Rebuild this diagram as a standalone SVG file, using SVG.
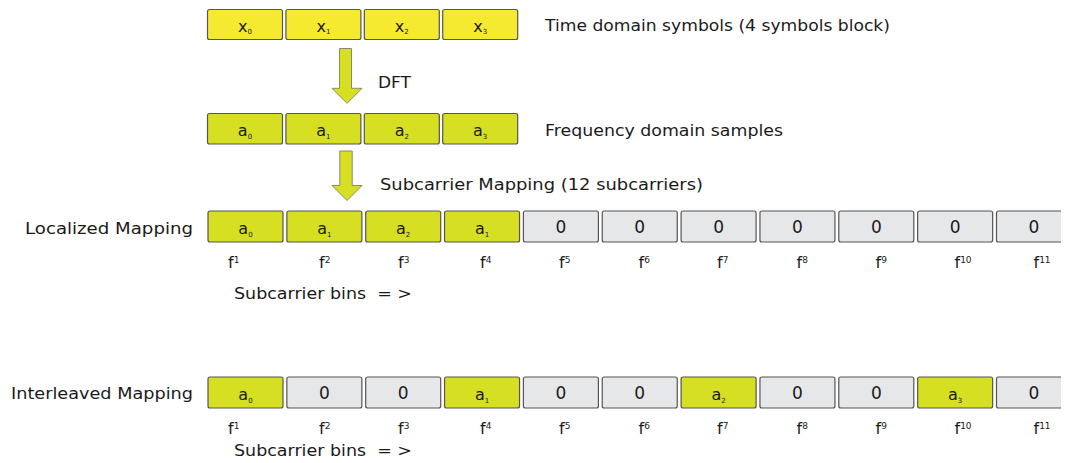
<svg xmlns="http://www.w3.org/2000/svg" width="1066" height="463" viewBox="0 0 1066 463">
<defs>
<style>
.bx{stroke:#555;stroke-width:1.2}
.y{fill:#f6ea31}
.g{fill:#d7df23}
.z{fill:#e6e7e8}
text{font-family:"DejaVu Sans","Liberation Sans",sans-serif;fill:#1a1a1a}
.lbl{font-size:16.5px}
.sym{font-size:16px;text-anchor:middle}
.sub{font-size:7px}
.zero{font-size:17px;text-anchor:middle}
.f{font-size:16px}
.sup{font-size:9px}
.arr{fill:#d7df23;stroke:#8a8a6a;stroke-width:1}
</style>
</defs>
<rect width="1066" height="463" fill="#fff"/>

<!-- Top row: time domain symbols -->
<g id="x0"><rect class="bx y" x="207.5" y="9.5" width="75" height="30" rx="2"/><text class="sym" x="245" y="31.5">x<tspan class="sub" dy="2.5">0</tspan></text></g>
<g id="x1"><rect class="bx y" x="285.9" y="9.5" width="75" height="30" rx="2"/><text class="sym" x="323.4" y="31.5">x<tspan class="sub" dy="2.5">1</tspan></text></g>
<g id="x2"><rect class="bx y" x="364.3" y="9.5" width="75" height="30" rx="2"/><text class="sym" x="401.8" y="31.5">x<tspan class="sub" dy="2.5">2</tspan></text></g>
<g id="x3"><rect class="bx y" x="442.7" y="9.5" width="75" height="30" rx="2"/><text class="sym" x="480.2" y="31.5">x<tspan class="sub" dy="2.5">3</tspan></text></g>
<text class="lbl" x="545" y="31" textLength="345" lengthAdjust="spacingAndGlyphs">Time domain symbols (4 symbols block)</text>

<!-- Second row: frequency domain samples -->
<g id="a0"><rect class="bx g" x="207.5" y="113.5" width="75" height="30.5" rx="2"/><text class="sym" x="245" y="136">a<tspan class="sub" dy="2.5">0</tspan></text></g>
<g id="a1"><rect class="bx g" x="285.9" y="113.5" width="75" height="30.5" rx="2"/><text class="sym" x="323.4" y="136">a<tspan class="sub" dy="2.5">1</tspan></text></g>
<g id="a2"><rect class="bx g" x="364.3" y="113.5" width="75" height="30.5" rx="2"/><text class="sym" x="401.8" y="136">a<tspan class="sub" dy="2.5">2</tspan></text></g>
<g id="a3"><rect class="bx g" x="442.7" y="113.5" width="75" height="30.5" rx="2"/><text class="sym" x="480.2" y="136">a<tspan class="sub" dy="2.5">3</tspan></text></g>
<text class="lbl" x="545" y="136" textLength="238" lengthAdjust="spacingAndGlyphs">Frequency domain samples</text>

<!-- Connectors: block arrows -->
<g id="connectors">
<path class="arr" d="M339.5,48.5 H351.5 V88.3 H362 L347,103.3 L332,88.3 H339.5 Z"/>
<path class="arr" d="M339.8,151 H352.2 V185.5 H362 L347,200.5 L332,185.5 H339.8 Z"/>
</g>
<text class="lbl" x="378" y="88" textLength="33" lengthAdjust="spacingAndGlyphs">DFT</text>
<text class="lbl" x="380" y="190" textLength="323" lengthAdjust="spacingAndGlyphs">Subcarrier Mapping (12 subcarriers)</text>

<!-- Localized mapping -->
<text class="lbl" x="25" y="234" textLength="168" lengthAdjust="spacingAndGlyphs">Localized Mapping</text>
<g id="loc1"><rect class="bx g" x="208" y="211" width="75" height="31" rx="2"/><text class="sym" x="245.5" y="234">a<tspan class="sub" dy="2.5">0</tspan></text></g>
<g id="loc2"><rect class="bx g" x="286.85" y="211" width="75" height="31" rx="2"/><text class="sym" x="324.35" y="234">a<tspan class="sub" dy="2.5">1</tspan></text></g>
<g id="loc3"><rect class="bx g" x="365.7" y="211" width="75" height="31" rx="2"/><text class="sym" x="403.2" y="234">a<tspan class="sub" dy="2.5">2</tspan></text></g>
<g id="loc4"><rect class="bx g" x="444.55" y="211" width="75" height="31" rx="2"/><text class="sym" x="482.05" y="234">a<tspan class="sub" dy="2.5">1</tspan></text></g>
<g id="loc5"><rect class="bx z" x="523.4" y="211" width="75" height="31" rx="2"/><text class="zero" x="560.9" y="233">0</text></g>
<g id="loc6"><rect class="bx z" x="602.25" y="211" width="75" height="31" rx="2"/><text class="zero" x="639.75" y="233">0</text></g>
<g id="loc7"><rect class="bx z" x="681.1" y="211" width="75" height="31" rx="2"/><text class="zero" x="718.6" y="233">0</text></g>
<g id="loc8"><rect class="bx z" x="759.95" y="211" width="75" height="31" rx="2"/><text class="zero" x="797.45" y="233">0</text></g>
<g id="loc9"><rect class="bx z" x="838.8" y="211" width="75" height="31" rx="2"/><text class="zero" x="876.3" y="233">0</text></g>
<g id="loc10"><rect class="bx z" x="917.65" y="211" width="75" height="31" rx="2"/><text class="zero" x="955.15" y="233">0</text></g>
<g id="loc11"><rect class="z" x="996.5" y="211" width="64.5" height="31"/><path class="bx" fill="none" d="M1061,211 H998.5 Q996.5,211 996.5,213 V240 Q996.5,242 998.5,242 H1061"/><text class="zero" x="1034" y="233">0</text></g>
<g id="locf">
<text class="f" x="228" y="268">f<tspan class="sup" dy="-5">1</tspan></text>
<text class="f" x="319" y="268">f<tspan class="sup" dy="-5">2</tspan></text>
<text class="f" x="398" y="268">f<tspan class="sup" dy="-5">3</tspan></text>
<text class="f" x="480" y="268">f<tspan class="sup" dy="-5">4</tspan></text>
<text class="f" x="559" y="268">f<tspan class="sup" dy="-5">5</tspan></text>
<text class="f" x="638.5" y="268">f<tspan class="sup" dy="-5">6</tspan></text>
<text class="f" x="717" y="268">f<tspan class="sup" dy="-5">7</tspan></text>
<text class="f" x="796.5" y="268">f<tspan class="sup" dy="-5">8</tspan></text>
<text class="f" x="875.5" y="268">f<tspan class="sup" dy="-5">9</tspan></text>
<text class="f" x="954.5" y="268">f<tspan class="sup" dy="-5">10</tspan></text>
<text class="f" x="1033.5" y="268">f<tspan class="sup" dy="-5">11</tspan></text>
</g>
<text class="lbl" x="234" y="299" textLength="178" lengthAdjust="spacingAndGlyphs">Subcarrier bins&#160; = &gt;</text>

<!-- Interleaved mapping -->
<text class="lbl" x="11" y="399" textLength="182" lengthAdjust="spacingAndGlyphs">Interleaved Mapping</text>
<g id="int1"><rect class="bx g" x="208" y="377" width="75" height="31" rx="2"/><text class="sym" x="245.5" y="400">a<tspan class="sub" dy="2.5">0</tspan></text></g>
<g id="int2"><rect class="bx z" x="286.85" y="377" width="75" height="31" rx="2"/><text class="zero" x="324.35" y="399">0</text></g>
<g id="int3"><rect class="bx z" x="365.7" y="377" width="75" height="31" rx="2"/><text class="zero" x="403.2" y="399">0</text></g>
<g id="int4"><rect class="bx g" x="444.55" y="377" width="75" height="31" rx="2"/><text class="sym" x="482.05" y="400">a<tspan class="sub" dy="2.5">1</tspan></text></g>
<g id="int5"><rect class="bx z" x="523.4" y="377" width="75" height="31" rx="2"/><text class="zero" x="560.9" y="399">0</text></g>
<g id="int6"><rect class="bx z" x="602.25" y="377" width="75" height="31" rx="2"/><text class="zero" x="639.75" y="399">0</text></g>
<g id="int7"><rect class="bx g" x="681.1" y="377" width="75" height="31" rx="2"/><text class="sym" x="718.6" y="400">a<tspan class="sub" dy="2.5">2</tspan></text></g>
<g id="int8"><rect class="bx z" x="759.95" y="377" width="75" height="31" rx="2"/><text class="zero" x="797.45" y="399">0</text></g>
<g id="int9"><rect class="bx z" x="838.8" y="377" width="75" height="31" rx="2"/><text class="zero" x="876.3" y="399">0</text></g>
<g id="int10"><rect class="bx g" x="917.65" y="377" width="75" height="31" rx="2"/><text class="sym" x="955.15" y="400">a<tspan class="sub" dy="2.5">3</tspan></text></g>
<g id="int11"><rect class="z" x="996.5" y="377" width="64.5" height="31"/><path class="bx" fill="none" d="M1061,377 H998.5 Q996.5,377 996.5,379 V406 Q996.5,408 998.5,408 H1061"/><text class="zero" x="1034" y="399">0</text></g>
<g id="intf">
<text class="f" x="228" y="433.5">f<tspan class="sup" dy="-5">1</tspan></text>
<text class="f" x="319" y="433.5">f<tspan class="sup" dy="-5">2</tspan></text>
<text class="f" x="398" y="433.5">f<tspan class="sup" dy="-5">3</tspan></text>
<text class="f" x="480" y="433.5">f<tspan class="sup" dy="-5">4</tspan></text>
<text class="f" x="559" y="433.5">f<tspan class="sup" dy="-5">5</tspan></text>
<text class="f" x="638.5" y="433.5">f<tspan class="sup" dy="-5">6</tspan></text>
<text class="f" x="717" y="433.5">f<tspan class="sup" dy="-5">7</tspan></text>
<text class="f" x="796.5" y="433.5">f<tspan class="sup" dy="-5">8</tspan></text>
<text class="f" x="875.5" y="433.5">f<tspan class="sup" dy="-5">9</tspan></text>
<text class="f" x="954.5" y="433.5">f<tspan class="sup" dy="-5">10</tspan></text>
<text class="f" x="1033.5" y="433.5">f<tspan class="sup" dy="-5">11</tspan></text>
</g>
<text class="lbl" x="234" y="456" textLength="178" lengthAdjust="spacingAndGlyphs">Subcarrier bins&#160; = &gt;</text>
</svg>
